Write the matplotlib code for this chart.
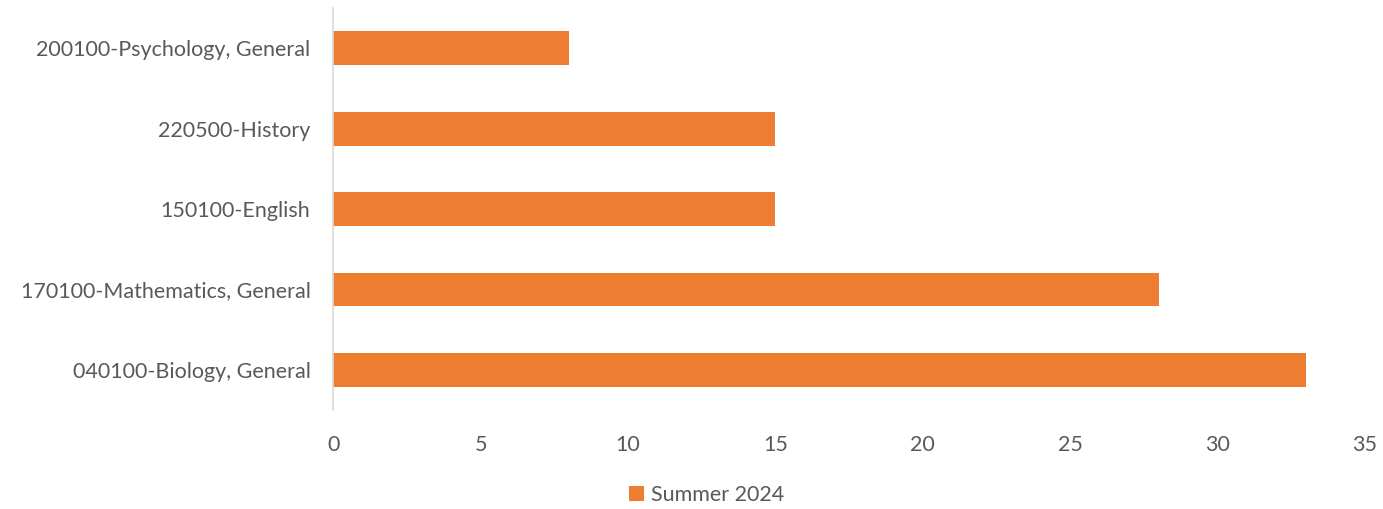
import matplotlib.pyplot as plt
import numpy as np

categories = ["040100-Biology, General", "170100-Mathematics, General",
              "150100-English", "220500-History", "200100-Psychology, General"]
values = [33, 28, 15, 15, 8]
series_name = "Summer 2024"
xticks = [0, 5, 10, 15, 20, 25, 30, 35]

plt.rcParams['font.family'] = ['Lato', 'DejaVu Sans']

fig = plt.figure(figsize=(13.83, 5.09), dpi=100)
ax = fig.add_axes([0.241, 0.1945, 0.746, 0.7895])

y = np.arange(len(categories))
ax.barh(y, values, height=0.42, color="#ED7D31", label=series_name)

ax.set_xlim(0, 35)
ax.set_ylim(-0.5, len(categories) - 0.5)
ax.set_yticks(y)
ax.set_yticklabels(categories, fontsize=15.5, color="#595959")
ax.set_xticks(xticks)
ax.set_xticklabels([str(t) for t in xticks], fontsize=15.5, color="#595959")
ax.tick_params(axis="both", length=0)
ax.tick_params(axis="y", pad=16.5)
ax.tick_params(axis="x", pad=18)

for s in ["top", "right", "bottom"]:
    ax.spines[s].set_visible(False)
ax.spines["left"].set_color("#D9D9D9")
ax.spines["left"].set_linewidth(1.2)

fig.legend(loc="lower center", bbox_to_anchor=(0.511, -0.03), frameon=False,
           fontsize=15.5, labelcolor="#595959", handlelength=0.7,
           handleheight=0.7, handletextpad=0.3)

fig.savefig("out.png", dpi=100)
